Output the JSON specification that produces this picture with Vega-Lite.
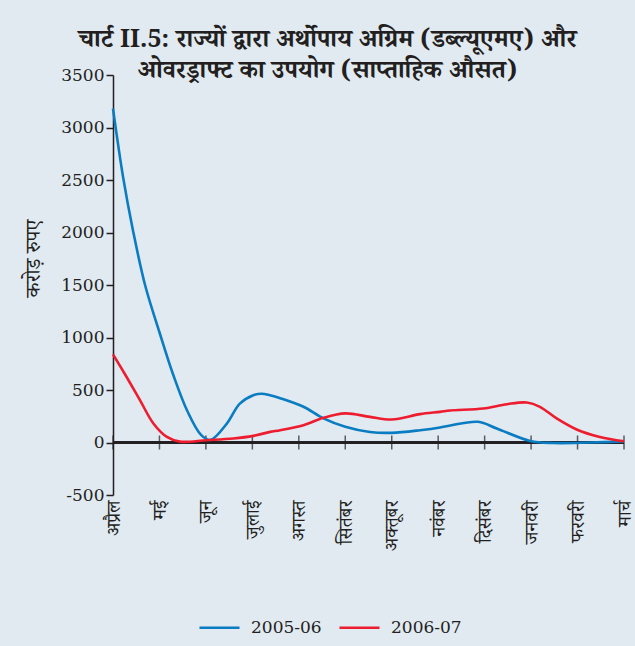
{
  "$schema": "https://vega.github.io/schema/vega-lite/v6.json",
  "width": 511,
  "height": 420,
  "autosize": {"type": "none"},
  "padding": {"left": 113, "top": 75, "right": 11, "bottom": 151},
  "background": "#e1e9f1",
  "config": {
    "view": {"stroke": null},
    "font": "DejaVu Serif"
  },
  "title": {
    "text": ["चार्ट II.5: राज्यों द्वारा अर्थोपाय अग्रिम (डब्ल्यूएमए) और", "ओवरड्राफ्ट का उपयोग (साप्ताहिक औसत)"],
    "font": "Noto Serif Devanagari, Noto Sans Devanagari, Lohit Devanagari, DejaVu Serif, serif",
    "fontSize": 25,
    "fontWeight": "bold",
    "color": "#231f20",
    "anchor": "middle",
    "dx": -41,
    "offset": -17,
    "lineHeight": 31
  },
  "datasets": {
    "series": [
      {"m": 0, "year": "2005-06", "value": 3180},
      {"m": 0.22, "year": "2005-06", "value": 2520},
      {"m": 0.43, "year": "2005-06", "value": 2020},
      {"m": 0.69, "year": "2005-06", "value": 1500},
      {"m": 1.0, "year": "2005-06", "value": 1050},
      {"m": 1.3, "year": "2005-06", "value": 640},
      {"m": 1.6, "year": "2005-06", "value": 300},
      {"m": 1.9, "year": "2005-06", "value": 70},
      {"m": 2.1, "year": "2005-06", "value": 25},
      {"m": 2.45, "year": "2005-06", "value": 180},
      {"m": 2.73, "year": "2005-06", "value": 370},
      {"m": 3.02, "year": "2005-06", "value": 450},
      {"m": 3.2, "year": "2005-06", "value": 465},
      {"m": 3.38, "year": "2005-06", "value": 450},
      {"m": 3.6, "year": "2005-06", "value": 422},
      {"m": 4.1, "year": "2005-06", "value": 340},
      {"m": 4.53, "year": "2005-06", "value": 230},
      {"m": 5.0, "year": "2005-06", "value": 150},
      {"m": 5.53, "year": "2005-06", "value": 100},
      {"m": 6.0, "year": "2005-06", "value": 92},
      {"m": 6.61, "year": "2005-06", "value": 117},
      {"m": 7.04, "year": "2005-06", "value": 143},
      {"m": 7.26, "year": "2005-06", "value": 162},
      {"m": 7.86, "year": "2005-06", "value": 197},
      {"m": 8.26, "year": "2005-06", "value": 134},
      {"m": 8.98, "year": "2005-06", "value": 15},
      {"m": 9.48, "year": "2005-06", "value": -5},
      {"m": 10.27, "year": "2005-06", "value": 0},
      {"m": 11, "year": "2005-06", "value": 10},
      {"m": 0, "year": "2006-07", "value": 840},
      {"m": 0.29, "year": "2006-07", "value": 626},
      {"m": 0.58, "year": "2006-07", "value": 404},
      {"m": 0.87, "year": "2006-07", "value": 181},
      {"m": 1.16, "year": "2006-07", "value": 53},
      {"m": 1.44, "year": "2006-07", "value": 8},
      {"m": 2.02, "year": "2006-07", "value": 22},
      {"m": 2.59, "year": "2006-07", "value": 38},
      {"m": 3.02, "year": "2006-07", "value": 63},
      {"m": 3.38, "year": "2006-07", "value": 101},
      {"m": 3.6, "year": "2006-07", "value": 117},
      {"m": 4.1, "year": "2006-07", "value": 165},
      {"m": 4.53, "year": "2006-07", "value": 235},
      {"m": 5.0, "year": "2006-07", "value": 277},
      {"m": 5.53, "year": "2006-07", "value": 244},
      {"m": 6.0, "year": "2006-07", "value": 219},
      {"m": 6.61, "year": "2006-07", "value": 270},
      {"m": 7.04, "year": "2006-07", "value": 292},
      {"m": 7.26, "year": "2006-07", "value": 305},
      {"m": 7.97, "year": "2006-07", "value": 324},
      {"m": 8.48, "year": "2006-07", "value": 365},
      {"m": 8.91, "year": "2006-07", "value": 381},
      {"m": 9.19, "year": "2006-07", "value": 340},
      {"m": 9.55, "year": "2006-07", "value": 229},
      {"m": 9.98, "year": "2006-07", "value": 124},
      {"m": 10.48, "year": "2006-07", "value": 53},
      {"m": 11, "year": "2006-07", "value": 12}
    ],
    "months": [
      {"m": 0}, {"m": 1}, {"m": 2}, {"m": 3}, {"m": 4}, {"m": 5},
      {"m": 6}, {"m": 7}, {"m": 8}, {"m": 9}, {"m": 10}, {"m": 11}
    ]
  },
  "layer": [
    {
      "data": {"name": "months"},
      "mark": {"type": "rule", "color": "#231f20", "strokeWidth": 1.5},
      "encoding": {
        "y": {"datum": 0, "type": "quantitative", "scale": {"domain": [-500, 3500], "nice": false, "zero": false}}
      }
    },
    {
      "data": {"name": "months"},
      "mark": {"type": "tick", "orient": "vertical", "color": "#231f20", "size": 14, "thickness": 1.5},
      "encoding": {
        "x": {"field": "m", "type": "quantitative"},
        "y": {"datum": 0, "type": "quantitative"}
      }
    },
    {
      "data": {"name": "series"},
      "mark": {"type": "line", "interpolate": "catmull-rom", "strokeWidth": 2.6},
      "encoding": {
        "x": {
          "field": "m",
          "type": "quantitative",
          "scale": {"domain": [0, 11], "nice": false, "zero": false},
          "axis": {
            "orient": "bottom",
            "title": null,
            "domain": false,
            "ticks": false,
            "grid": false,
            "values": [0, 1, 2, 3, 4, 5, 6, 7, 8, 9, 10, 11],
            "labelExpr": "['अप्रैल','मई','जून','जुलाई','अगस्त','सितंबर','अक्तूबर','नवंबर','दिसंबर','जनवरी','फरवरी','मार्च'][datum.value]",
            "labelAngle": -90,
            "labelAlign": "right",
            "labelBaseline": "middle",
            "labelPadding": 5,
            "labelFont": "Noto Serif Devanagari, Noto Sans Devanagari, Lohit Devanagari, serif",
            "labelFontSize": 19,
            "labelColor": "#231f20",
            "labelOverlap": false,
            "labelBound": false,
            "labelFlush": false
          }
        },
        "y": {
          "field": "value",
          "type": "quantitative",
          "scale": {"domain": [-500, 3500], "nice": false, "zero": false},
          "axis": {
            "title": "करोड़ रुपए",
            "titleFont": "Noto Serif Devanagari, Noto Sans Devanagari, Lohit Devanagari, serif",
            "titleFontSize": 21,
            "titleFontWeight": "normal",
            "titleColor": "#231f20",
            "titlePadding": 17,
            "titleY": 183,
            "values": [-500, 0, 500, 1000, 1500, 2000, 2500, 3000, 3500],
            "labelExpr": "'' + datum.value",
            "labelFont": "DejaVu Serif",
            "labelFontSize": 17,
            "labelColor": "#231f20",
            "labelPadding": 2,
            "grid": false,
            "domainColor": "#231f20",
            "domainWidth": 1.5,
            "tickColor": "#231f20",
            "tickWidth": 1.5,
            "tickSize": 7
          }
        },
        "color": {
          "field": "year",
          "type": "nominal",
          "scale": {"domain": ["2005-06", "2006-07"], "range": ["#0a7cc1", "#ed1c2e"]},
          "legend": {
            "title": null,
            "orient": "none",
            "direction": "horizontal",
            "legendX": 85,
            "legendY": 531,
            "symbolType": "stroke",
            "symbolSize": 1600,
            "symbolStrokeWidth": 2.6,
            "labelFont": "DejaVu Serif",
            "labelFontSize": 17,
            "labelColor": "#231f20",
            "labelOffset": 10,
            "columnPadding": 12
          }
        }
      }
    }
  ]
}
